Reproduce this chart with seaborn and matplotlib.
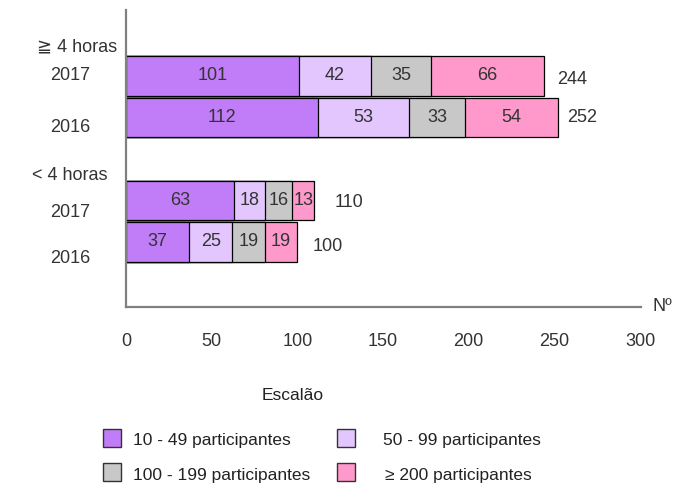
import matplotlib
matplotlib.use("Agg")
import matplotlib.pyplot as plt
from matplotlib.patches import Rectangle
import seaborn as sns
import pandas as pd
import numpy as np

sns.set_theme(style="white")
FONT = ['Liberation Sans', 'DejaVu Sans']
plt.rcParams['font.family'] = FONT

# ---- data ----
rows = ["≧4h 2017", "≧4h 2016", "<4h 2017", "<4h 2016"]
row_pos = [0, 1, 3, 4]
s_10_49 = [101, 112, 63, 37]
s_50_99 = [42, 53, 18, 25]
s_100_199 = [35, 33, 16, 19]
s_200 = [66, 54, 13, 19]
series_names = ["10 - 49 participantes", "50 - 99 participantes",
                "100 - 199 participantes", "≥ 200 participantes"]
colors = ["#C17DF7", "#E2C6FD", "#C8C8C8", "#FF99CC"]
xticks = [0, 50, 100, 150, 200, 250, 300]
group_labels = ["≧ 4 horas", "2017", "2016", "< 4 horas", "2017", "2016"]

series = [s_10_49, s_50_99, s_100_199, s_200]
cum = np.cumsum(np.array(series), axis=0)
totals = cum[-1]

FS = 13

fig = plt.figure(figsize=(6.76, 4.86), dpi=100)
W, H = 676, 486
x0, x300, ytop, ybot = 126, 640, 10, 307
px_per_unit = (x300 - x0) / 300.0
xmax = (641 - x0) / px_per_unit
ax = fig.add_axes([x0 / W, 1 - ybot / H, (641 - x0) / W, (ybot - ytop) / H])

# draw stacked bars (largest cumulative first)
for i in range(3, -1, -1):
    df = pd.DataFrame({"y": row_pos, "x": cum[i]})
    sns.barplot(data=df, x="x", y="y", orient="h", native_scale=True,
                color=colors[i], saturation=1, width=0.94,
                edgecolor="black", linewidth=0.9, ax=ax)

# segment labels
starts = np.vstack([np.zeros(len(rows)), cum[:-1]])
for i, s in enumerate(series):
    for j, v in enumerate(s):
        ax.text(starts[i][j] + v / 2, row_pos[j], str(v), ha="center", va="center",
                fontsize=FS, color="#333333", family=FONT)

# totals
tot_off = [13, 9, 20, 15]
tot_dy = [0.08, 0.0, 0.05, 0.1]
for j, t in enumerate(totals):
    ax.text(t + tot_off[j] / px_per_unit, row_pos[j] + tot_dy[j], str(t),
            ha="left", va="center", fontsize=FS, color="#333333", family=FONT)

ax.set_xlim(0, xmax)
unit = 41.5
ax.set_ylim((ybot - 76) / unit, (ytop - 76) / unit)
ax.set_xticks(xticks)
ax.set_xticklabels([str(t) for t in xticks], fontsize=FS, color="#333333")
ax.tick_params(axis="x", length=0, pad=19)
ax.set_yticks([])
ax.set_xlabel("")
ax.set_ylabel("")
for sp in ["top", "right"]:
    ax.spines[sp].set_visible(False)
for sp in ["left", "bottom"]:
    ax.spines[sp].set_color("#808080")
    ax.spines[sp].set_linewidth(1.6)

# group / year labels on the left
lab_pos = [(77, 47, "center"), (70, 76, "center"), (70, 127, "center"),
           (70, 175, "center"), (70, 212, "center"), (70, 258, "center")]
for (px, py, ha), lab in zip(lab_pos, group_labels):
    fig.text(px / W, 1 - py / H, lab, ha=ha, va="center", fontsize=FS,
             color="#333333", family=FONT)

fig.text(662 / W, 1 - 306 / H, "Nº", ha="center", va="center", fontsize=FS,
         color="#333333", family=FONT)

# legend
fig.text(293 / W, 1 - 396 / H, "Escalão", ha="center", va="center",
         fontsize=12.5, color="#222222", family=FONT)
leg_sq = [(103, 429), (337, 429), (103, 463), (337, 463)]
leg_tx = [(133, 440), (383, 440), (133, 475), (385, 475)]
for i in range(4):
    sx, sy = leg_sq[i]
    fig.add_artist(Rectangle((sx / W, 1 - (sy + 18) / H), 18 / W, 18 / H,
                             transform=fig.transFigure, facecolor=colors[i],
                             edgecolor="#333333", linewidth=1.0))
    tx, ty = leg_tx[i]
    fig.text(tx / W, 1 - ty / H, series_names[i], ha="left", va="center",
             fontsize=12.5, color="#222222", family=FONT)

fig.savefig("out.png", dpi=100)
